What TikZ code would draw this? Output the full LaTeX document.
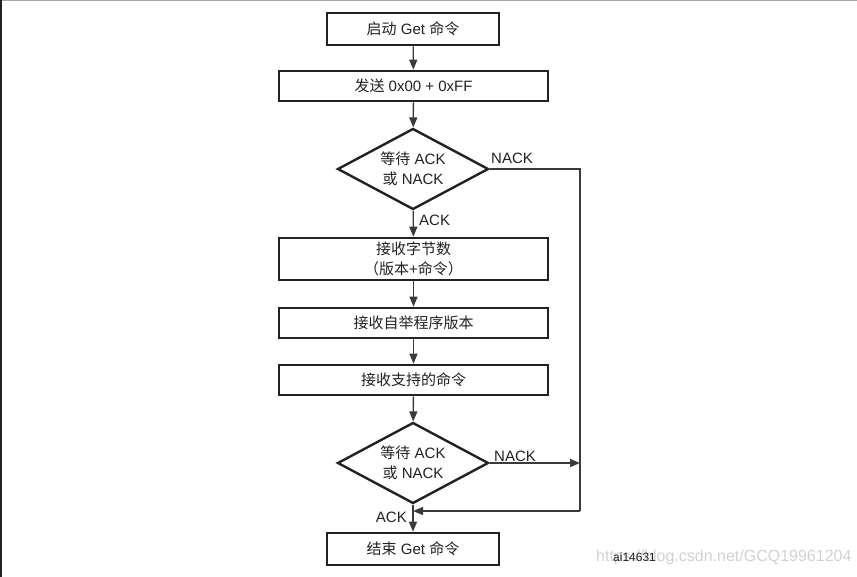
\documentclass[tikz,border=0pt]{standalone}
\usepackage{fontspec}
\setmainfont{Liberation Sans}
\newfontfamily\cjk{Noto Sans CJK SC}
\usetikzlibrary{shapes.geometric,arrows.meta}
\definecolor{ink}{HTML}{222222}
\definecolor{wire}{HTML}{3A3A3A}
\tikzset{
  stepbox/.style={draw=ink,line width=2.6pt,minimum height=30pt,inner sep=0pt,text=ink,font=\fontsize{15}{20}\selectfont,align=center},
  decide/.style={diamond,draw=ink,line width=2.4pt,aspect=1.86,minimum width=151pt,minimum height=81pt,inner sep=0pt,text=ink,font=\fontsize{15}{20}\selectfont,align=center},
  link/.style={draw=wire,line width=1.3pt,-{Triangle[length=10pt,width=8pt]}},
  plain/.style={draw=wire,line width=1.3pt},
  lbl/.style={text=ink,font=\fontsize{15}{18}\selectfont,inner sep=0pt}
}
\begin{document}
\begin{tikzpicture}[x=1pt,y=-1pt]
\useasboundingbox (0,0) rectangle (857,577);
\fill[white] (0,0) rectangle (857,577);
\fill[gray!70] (0,0) rectangle (857,1.5);
\fill[ink] (0,0) rectangle (1.8,577);
\node[stepbox,minimum width=172pt,minimum height=32pt] (s1) at (413,29) {{\cjk 启动} Get {\cjk 命令}};
\node[stepbox,minimum width=269pt] (s2) at (413.5,86) {{\cjk 发送} 0x00 + 0xFF};
\node[decide] (d1) at (413,169) {{\cjk 等待} ACK\\{\cjk 或} NACK};
\node[stepbox,minimum width=269pt,minimum height=42pt] (s3) at (413.5,259) {{\cjk 接收字节数}\\{\cjk （版本}+{\cjk 命令）}};
\node[stepbox,minimum width=269pt] (s4) at (413.5,323) {\cjk 接收自举程序版本};
\node[stepbox,minimum width=269pt] (s5) at (413.5,380) {\cjk 接收支持的命令};
\node[decide] (d2) at (413,463) {{\cjk 等待} ACK\\{\cjk 或} NACK};
\node[stepbox,minimum width=172pt,minimum height=32pt] (s6) at (413,549) {{\cjk 结束} Get {\cjk 命令}};
\coordinate (r1) at (580,169);
\coordinate (r2) at (580,463);
\coordinate (r3) at (580,511);
\coordinate (j) at (413,511);
\draw[link] (s1) -- (s2);
\draw[link] (s2) -- (d1);
\draw[link] (d1) -- (s3);
\draw[link] (s3) -- (s4);
\draw[link] (s4) -- (s5);
\draw[link] (s5) -- (d2);
\draw[link] (d2) -- (s6);
\draw[plain] (d1.east) -- (r1) -- (r3);
\draw[link] (r3) -- (j);
\draw[link] (d2.east) -- (r2);
\node[lbl,anchor=west] (n1) at (491,158) {NACK};
\node[lbl,anchor=west] (a1) at (419,220) {ACK};
\node[lbl,anchor=west] (n2) at (494,456) {NACK};
\node[lbl,anchor=east] (a2) at (407,517) {ACK};
\node[text=gray!35,font=\fontsize{16}{18}\selectfont,inner sep=0pt,anchor=west] (wm) at (596,557) {https://blog.csdn.net/GCQ19961204};
\node[text=ink,font=\fontsize{12}{14}\selectfont,inner sep=0pt,anchor=west] (id) at (613,557) {ai14631};
\end{tikzpicture}
\end{document}
